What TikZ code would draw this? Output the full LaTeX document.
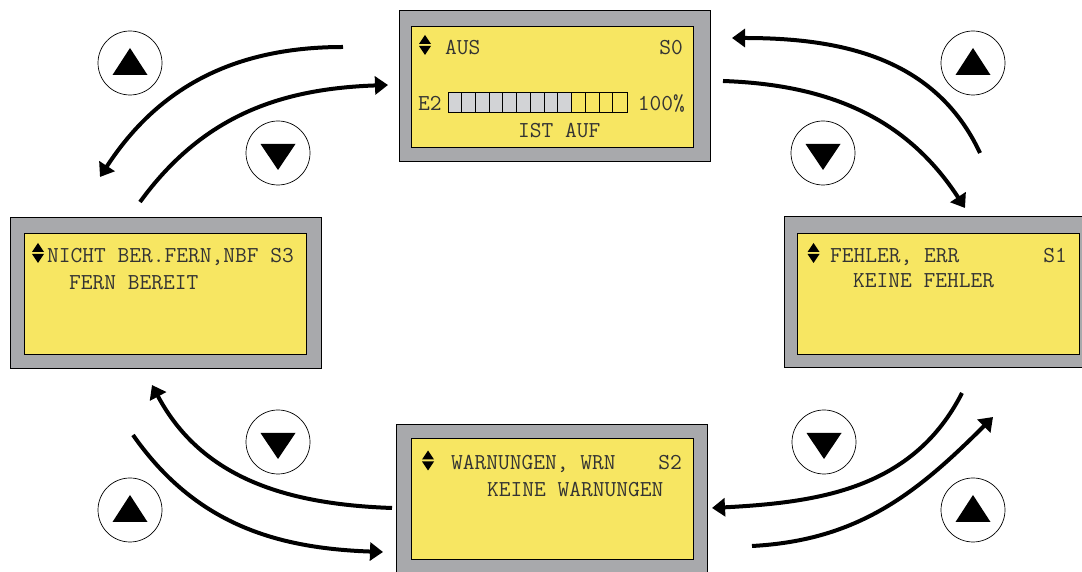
\documentclass[tikz,border=0pt]{standalone}
\usepackage{tikz}
\usetikzlibrary{arrows.meta,positioning}
\definecolor{lcdyellow}{RGB}{247,230,98}
\definecolor{framegray}{RGB}{168,169,172}
\definecolor{barfill}{RGB}{210,211,214}
\newcommand{\lcdfont}{\ttfamily\fontsize{22.8}{26}\selectfont}
\newcommand{\uptri}[1]{\fill ([shift={(-17.5,-12)}]#1.center) -- ++(35,0) -- ++(-17.5,27) -- cycle;}
\newcommand{\dntri}[1]{\fill ([shift={(-17.5,9)}]#1.center) -- ++(35,0) -- ++(-17.5,-26) -- cycle;}

\begin{document}
\begin{tikzpicture}[x=1pt,y=1pt,
  screen/.style={rectangle,draw,fill=framegray,line width=0.8pt,minimum width=311pt,minimum height=151pt,inner sep=0pt},
  lcd/.style={rectangle,draw,fill=lcdyellow,line width=0.8pt,minimum width=282pt,minimum height=121pt,inner sep=0pt},
  txt/.style={font=\lcdfont,inner sep=0pt,text=black!80},
  key/.style={circle,draw,line width=0.7pt,minimum size=64pt,inner sep=0pt},
  flow/.style={line width=4pt,-{Triangle[length=13pt,width=18pt]}},
  bar/.style={draw,line width=0.8pt,minimum width=179pt,minimum height=20pt,inner sep=0pt,
    path picture={\fill[barfill] (path picture bounding box.south west) rectangle ([xshift=123.9pt]path picture bounding box.north west);}},
  updn/.pic={\fill (-6,1) -- (6,1) -- (0,10) -- cycle; \fill (-6,-1) -- (6,-1) -- (0,-10) -- cycle;}
]
  \useasboundingbox (0,0) rectangle (1082,572);

  % displays
  \node[screen] (s0) at (555,486.5) {};
  \node[lcd] (s0lcd) at (552.5,485.5) {};
  \node[screen] (s3) at (165.5,279.5) {};
  \node[lcd] (s3lcd) at (165.5,278) {};
  \node[screen] (s1) at (939.5,280) {};
  \node[lcd] (s1lcd) at (938,278.5) {};
  \node[screen] (s2) at (552,72.5) {};
  \node[lcd] (s2lcd) at (552,73) {};

  % S0
  \pic at (425,527) {updn};
  \node[txt,anchor=base west] (s0a) at (445,517) {AUS};
  \node[txt,anchor=base east] (s0b) at (683,517) {S0};
  \node[txt,anchor=base west] (s0c) at (418,461) {E2};
  \node[bar] (bar) at (537.5,470) {};
  \foreach \i in {1,...,12}
    \draw[line width=0.8pt] ([xshift=\i*13.769]bar.south west) -- ([xshift=\i*13.769]bar.north west);
  \node[txt,anchor=base east] (s0d) at (685,461) {100\%};
  \node[txt,anchor=base west] (s0e) at (518,434) {IST AUF};

  % S3
  \pic at (38,319) {updn};
  \node[txt,anchor=base west] (s3a) at (47,309) {NICHT BER.FERN,NBF S3};
  \node[txt,anchor=base west] (s3b) at (69,282) {FERN BEREIT};

  % S1
  \pic at (813.5,319) {updn};
  \node[txt,anchor=base west] (s1a) at (830,309) {FEHLER, ERR};
  \node[txt,anchor=base east] (s1b) at (1067,309) {S1};
  \node[txt,anchor=base west] (s1c) at (853,284) {KEINE FEHLER};

  % S2
  \pic at (428,111.5) {updn};
  \node[txt,anchor=base west] (s2a) at (451,102) {WARNUNGEN, WRN};
  \node[txt,anchor=base east] (s2b) at (682,102) {S2};
  \node[txt,anchor=base west] (s2c) at (487,75) {KEINE WARNUNGEN};

  % keys
  \node[key] (k1) at (130,509) {};  \uptri{k1}
  \node[key] (k2) at (278,419) {};  \dntri{k2}
  \node[key] (k3) at (973,509) {};  \uptri{k3}
  \node[key] (k4) at (823,419) {};  \dntri{k4}
  \node[key] (k5) at (278,130) {};  \dntri{k5}
  \node[key] (k6) at (130,62) {};   \uptri{k6}
  \node[key] (k7) at (824,130) {};  \dntri{k7}
  \node[key] (k8) at (973,62) {};   \uptri{k8}

  % arrows
  \coordinate (a1s) at (343,525);  \coordinate (a1e) at (100,395);
  \coordinate (a2s) at (140,370);  \coordinate (a2e) at (388,487);
  \coordinate (a3s) at (980,419);  \coordinate (a3e) at (732,534);
  \coordinate (a4s) at (723,491);  \coordinate (a4e) at (965,364);
  \coordinate (a5s) at (392,64);   \coordinate (a5e) at (152,187);
  \coordinate (a6s) at (133,137);  \coordinate (a6e) at (383,20);
  \coordinate (a7s) at (962,179);  \coordinate (a7e) at (712,64);
  \coordinate (a8s) at (752,26);   \coordinate (a8e) at (993,155);
  \draw[flow] (a1s) to[out=180,in=57] (a1e);
  \draw[flow] (a2s) to[out=54,in=182] (a2e);
  \draw[flow] (a3s) to[out=115,in=0] (a3e);
  \draw[flow] (a4s) to[out=-2,in=123] (a4e);
  \draw[flow] (a5s) to[out=178,in=298] (a5e);
  \draw[flow] (a6s) to[out=-55,in=178] (a6e);
  \draw[flow] (a7s) to[out=243,in=3] (a7e);
  \draw[flow] (a8s) to[out=3,in=225] (a8e);
\end{tikzpicture}
\end{document}
